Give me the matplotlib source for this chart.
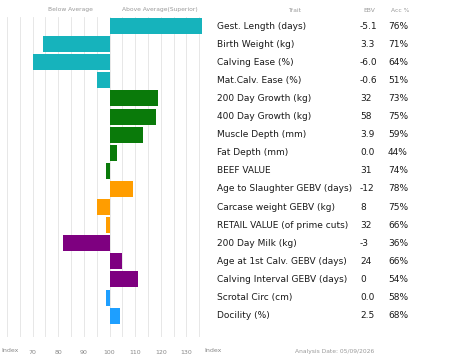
import matplotlib
matplotlib.use("Agg")
import matplotlib.pyplot as plt

# Data
traits = ["Gest. Length (days)", "Birth Weight (kg)", "Calving Ease (%)",
          "Mat.Calv. Ease (%)", "200 Day Growth (kg)", "400 Day Growth (kg)",
          "Muscle Depth (mm)", "Fat Depth (mm)", "BEEF VALUE",
          "Age to Slaughter GEBV (days)", "Carcase weight GEBV (kg)",
          "RETAIL VALUE (of prime cuts)", "200 Day Milk (kg)",
          "Age at 1st Calv. GEBV (days)", "Calving Interval GEBV (days)",
          "Scrotal Circ (cm)", "Docility (%)"]
ebv = ["-5.1", "3.3", "-6.0", "-0.6", "32", "58", "3.9", "0.0", "31", "-12",
       "8", "32", "-3", "24", "0", "0.0", "2.5"]
acc = ["76%", "71%", "64%", "51%", "73%", "75%", "59%", "44%", "74%", "78%",
       "75%", "66%", "36%", "66%", "54%", "58%", "68%"]
index = [136, 74, 70, 95, 119, 118, 113, 103, 98.5, 109, 95, 98.5, 82, 105,
         111, 98.5, 104]
groups = ["calving"] * 4 + ["growth"] * 5 + ["carcase"] * 3 + ["maternal"] * 3 + ["other"] * 2
tick_vals = [70, 80, 90, 100, 110, 120, 130]

colors = {"calving": "#16B3BC", "growth": "#0A7A0A", "carcase": "#FF9D00",
          "maternal": "#7E0080", "other": "#1E9FFF"}

W, H = 453, 362
fig = plt.figure(figsize=(W / 100, H / 100), dpi=100)

# axes: x 60..140 -> px 7..212, y px 17..337
x0, x1 = 7, 212
ax = fig.add_axes([x0 / W, (H - 337) / H, (x1 - x0) / W, 320 / H])

n = len(traits)
ypos = list(range(n))
for y, v, g in zip(ypos, index, groups):
    ax.barh(y, v - 100, left=100, height=0.88, color=colors[g], zorder=2)

ax.set_xlim(60, 140)
ax.set_ylim(17.18, -0.5)
for gx in range(60, 140, 5):
    ax.axvline(gx, color="#e3e3e3", lw=0.6, zorder=1)

ax.set_xticks(tick_vals)
ax.set_xticklabels([str(v) for v in tick_vals], fontsize=4.5, color="#888888")
ax.tick_params(axis="x", length=0, pad=9)
ax.set_yticks([])
for s in ax.spines.values():
    s.set_visible(False)

def px(xp):
    return (xp - x0) / (x1 - x0)

tr = ax.get_yaxis_transform()
for y, t, e, a in zip(ypos, traits, ebv, acc):
    ax.text(px(217), y, t, transform=tr, fontsize=6.5, color="#1a1a1a",
            va="center", ha="left", clip_on=False)
    ax.text(px(360), y, e, transform=tr, fontsize=6.5, color="#1a1a1a",
            va="center", ha="left", clip_on=False)
    ax.text(px(388), y, a, transform=tr, fontsize=6.5, color="#1a1a1a",
            va="center", ha="left", clip_on=False)

# headers and footer
hdr = dict(fontsize=4.3, color="#999999", ha="center", va="center")
fig.text(70 / W, 1 - 10 / H, "Below Average", **hdr)
fig.text(160 / W, 1 - 10 / H, "Above Average(Superior)", **hdr)
fig.text(295 / W, 1 - 10 / H, "Trait", **hdr)
fig.text(369 / W, 1 - 10 / H, "EBV", **hdr)
fig.text(400 / W, 1 - 10 / H, "Acc %", **hdr)
fig.text(335 / W, 1 - 351 / H, "Analysis Date: 05/09/2026", **hdr)
foot = dict(fontsize=4.5, color="#888888", va="center")
fig.text(1 / W, 1 - 351 / H, "Index", ha="left", **foot)
fig.text(213 / W, 1 - 351 / H, "Index", ha="center", **foot)

fig.savefig("out.png", dpi=100)
